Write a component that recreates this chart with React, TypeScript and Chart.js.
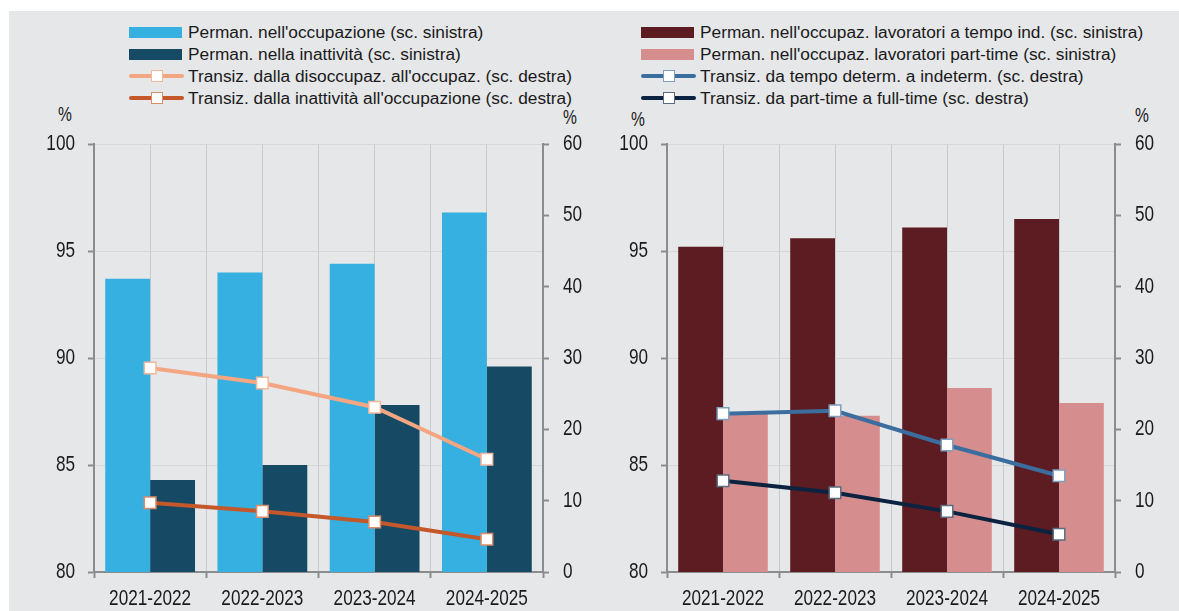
import React, { useEffect, useRef } from "react";
import { Chart, registerables } from "chart.js";

Chart.register(...registerables);

// ---- data ----
const categories = ["2021-2022", "2022-2023", "2023-2024", "2024-2025"];
const permOccupazione = [93.7, 94.0, 94.4, 96.8];
const permInattivita = [84.3, 85.0, 87.8, 89.6];
const transDisoccOcc = [28.6, 26.5, 23.1, 15.8];
const transInattOcc = [9.7, 8.5, 7.0, 4.6];
const permTempoInd = [95.2, 95.6, 96.1, 96.5];
const permPartTime = [87.4, 87.3, 88.6, 87.9];
const transDetIndet = [22.2, 22.6, 17.8, 13.5];
const transPtFt = [12.8, 11.1, 8.5, 5.3];
const leftTicks = [80, 85, 90, 95, 100];
const rightTicks = [0, 10, 20, 30, 40, 50, 60];

const FONT = "'Liberation Sans Narrow', 'Arial Narrow', 'Liberation Sans', Arial, sans-serif";
const TEXT = "#1a1a1a";
const AXIS = "#8c8c8c";
const GRID_V = "#c8c9cb";
const GRID_H = "#d6d7d9";
const BG = "#e6e7e9";
const CONDENSE = 0.78;

type SeriesDef = {
  label: string;
  kind: "bar" | "line";
  data: number[];
  color: string;
  marker?: string;
};

const leftSeries: SeriesDef[] = [
  { label: "Perman. nell'occupazione (sc. sinistra)", kind: "bar", data: permOccupazione, color: "#35b0e0" },
  { label: "Perman. nella inattività (sc. sinistra)", kind: "bar", data: permInattivita, color: "#164a64" },
  { label: "Transiz. dalla disoccupaz. all'occupaz. (sc. destra)", kind: "line", data: transDisoccOcc, color: "#f4a683", marker: "#f2b89c" },
  { label: "Transiz. dalla inattività all'occupazione (sc. destra)", kind: "line", data: transInattOcc, color: "#c4582b", marker: "#dc8c68" },
];

const rightSeries: SeriesDef[] = [
  { label: "Perman. nell'occupaz. lavoratori a tempo ind. (sc. sinistra)", kind: "bar", data: permTempoInd, color: "#5c1c21" },
  { label: "Perman. nell'occupaz. lavoratori part-time (sc. sinistra)", kind: "bar", data: permPartTime, color: "#d58e8d" },
  { label: "Transiz. da tempo determ. a indeterm. (sc. destra)", kind: "line", data: transDetIndet, color: "#3b6e9f", marker: "#7f9fc0" },
  { label: "Transiz. da part-time a full-time (sc. destra)", kind: "line", data: transPtFt, color: "#0b2240", marker: "#5b6b80" },
];

// narrow-font emulation: horizontally condense text drawn on this canvas
function condenseText(ctx: CanvasRenderingContext2D, k: number) {
  const orig = ctx.fillText.bind(ctx);
  (ctx as any).fillText = (text: string, x: number, y: number, maxWidth?: number) => {
    ctx.save();
    ctx.translate(x, y);
    ctx.scale(k, 1);
    if (typeof maxWidth === "number" && isFinite(maxWidth)) orig(text, 0, 0, maxWidth / k);
    else orig(text, 0, 0);
    ctx.restore();
  };
}

function buildConfig(series: SeriesDef[], yW: number, y1W: number): any {
  const datasets = series.map((s) =>
    s.kind === "bar"
      ? {
          type: "bar",
          label: s.label,
          data: s.data,
          backgroundColor: s.color,
          borderWidth: 0,
          barPercentage: 1,
          categoryPercentage: 0.8,
          xAxisID: "x",
          yAxisID: "y",
          order: 2,
        }
      : {
          type: "line",
          label: s.label,
          data: s.data,
          borderColor: s.color,
          borderWidth: 4,
          pointStyle: "rect",
          pointRadius: 8.2,
          pointHoverRadius: 8.2,
          pointBackgroundColor: "#ffffff",
          pointBorderColor: s.marker,
          pointBorderWidth: 1.5,
          tension: 0,
          xAxisID: "x",
          yAxisID: "y1",
          order: 1,
        }
  );
  const tickFont = { family: FONT, size: 22 };
  return {
    type: "bar",
    data: { labels: categories, datasets },
    options: {
      responsive: false,
      animation: false,
      events: [],
      layout: { padding: { top: 20, left: 0, right: 0, bottom: 0 } },
      plugins: { legend: { display: false }, tooltip: { enabled: false } },
      scales: {
        x: {
          type: "category",
          offset: true,
          grid: {
            offset: true,
            color: GRID_V,
            lineWidth: 1,
            drawTicks: true,
            tickLength: 6,
            tickColor: AXIS,
            tickWidth: 2,
          },
          border: { color: AXIS, width: 2 },
          ticks: { color: TEXT, font: tickFont, padding: 8, maxRotation: 0, autoSkip: false },
          afterFit: (s: any) => {
            s.height = 39;
            s.paddingLeft = 0;
            s.paddingRight = 0;
          },
        },
        xc: {
          type: "category",
          position: "top",
          offset: true,
          grid: { offset: false, color: GRID_V, lineWidth: 1, drawTicks: false },
          border: { display: false },
          ticks: { display: false },
          afterFit: (s: any) => {
            s.height = 0;
            s.paddingLeft = 0;
            s.paddingRight = 0;
          },
        },
        y: {
          position: "left",
          min: leftTicks[0],
          max: leftTicks[leftTicks.length - 1],
          afterBuildTicks: (s: any) => {
            s.ticks = leftTicks.map((v) => ({ value: v }));
          },
          grid: { color: GRID_H, lineWidth: 1, tickLength: 6, tickColor: AXIS, tickWidth: 2 },
          border: { color: AXIS, width: 2 },
          ticks: { color: TEXT, font: tickFont, padding: 13 },
          afterFit: (s: any) => {
            s.width = yW;
            s.paddingTop = 0;
            s.paddingBottom = 0;
          },
        },
        y1: {
          position: "right",
          min: rightTicks[0],
          max: rightTicks[rightTicks.length - 1],
          afterBuildTicks: (s: any) => {
            s.ticks = rightTicks.map((v) => ({ value: v }));
          },
          grid: { drawOnChartArea: false, tickLength: 6, tickColor: AXIS, tickWidth: 2 },
          border: { color: AXIS, width: 2 },
          ticks: { color: TEXT, font: tickFont, padding: 14 },
          afterFit: (s: any) => {
            s.width = y1W;
            s.paddingTop = 0;
            s.paddingBottom = 0;
          },
        },
      },
    },
  };
}

function Panel(props: { series: SeriesDef[]; left: number; width: number; yW: number; y1W: number }) {
  const ref = useRef<HTMLCanvasElement | null>(null);
  useEffect(() => {
    const canvas = ref.current;
    if (!canvas) return;
    const ctx = canvas.getContext("2d");
    if (!ctx) return;
    condenseText(ctx, CONDENSE);
    const chart = new Chart(ctx, buildConfig(props.series, props.yW, props.y1W));
    return () => chart.destroy();
  }, []);
  return (
    <div style={{ position: "absolute", left: props.left, top: 124, width: props.width, height: 487 }}>
      <canvas ref={ref} width={props.width} height={487} style={{ display: "block" }} />
    </div>
  );
}

function LegendIcon({ s }: { s: SeriesDef }) {
  if (s.kind === "bar") {
    return (
      <div style={{ position: "relative", width: 53, height: 22, flex: "none" }}>
        <div style={{ position: "absolute", left: 0, top: 6, width: 53, height: 11, background: s.color }} />
      </div>
    );
  }
  return (
    <div style={{ position: "relative", width: 55, height: 22, flex: "none" }}>
      <div style={{ position: "absolute", left: 0, top: 9, width: 55, height: 4, background: s.color, borderRadius: 2 }} />
      <div
        style={{
          position: "absolute",
          left: 21.5,
          top: 5,
          width: 12,
          height: 12,
          boxSizing: "border-box",
          background: "#fff",
          border: `1.5px solid ${s.marker}`,
        }}
      />
    </div>
  );
}

function Legend({ series, left }: { series: SeriesDef[]; left: number }) {
  return (
    <div style={{ position: "absolute", left, top: 21 }}>
      {series.map((s, i) => (
        <div key={i} style={{ display: "flex", alignItems: "center", height: 22, lineHeight: "22px" }}>
          <LegendIcon s={s} />
          <span style={{ marginLeft: s.kind === "bar" ? 6 : 4, fontSize: 17.3, color: TEXT, whiteSpace: "nowrap" }}>{s.label}</span>
        </div>
      ))}
    </div>
  );
}

function Pct({ x, y }: { x: number; y: number }) {
  return (
    <div
      style={{
        position: "absolute",
        left: x - 15,
        top: y - 12,
        width: 30,
        height: 24,
        lineHeight: "24px",
        textAlign: "center",
        fontSize: 20,
        color: TEXT,
        transform: `scaleX(${CONDENSE})`,
        transformOrigin: "center",
      }}
    >
      %
    </div>
  );
}

export default function App() {
  return (
    <div
      style={{
        position: "fixed",
        left: 0,
        top: 0,
        width: 1179,
        height: 611,
        background: "#ffffff",
        overflow: "hidden",
        fontFamily: FONT,
      }}
    >
      <div style={{ position: "absolute", left: 9, top: 11, right: 0, bottom: 0, background: BG }} />
      <Legend series={leftSeries} left={129} />
      <Legend series={rightSeries} left={641} />
      <Pct x={65} y={114} />
      <Pct x={570} y={117} />
      <Pct x={638} y={119} />
      <Pct x={1142} y={115} />
      <Panel series={leftSeries} left={9} width={581} yW={85} y1W={47} />
      <Panel series={rightSeries} left={590} width={589} yW={77} y1W={64} />
    </div>
  );
}
